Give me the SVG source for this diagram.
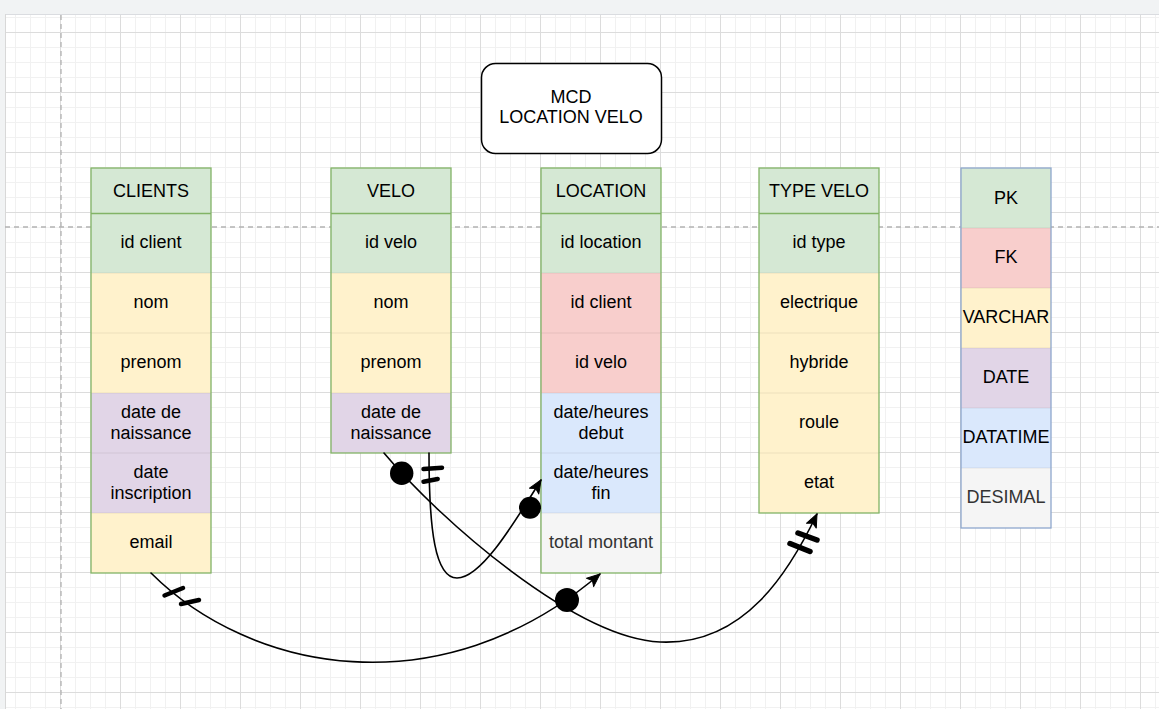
<svg xmlns="http://www.w3.org/2000/svg" width="1159" height="709" viewBox="0 0 1159 709">
<defs>
<pattern id="minor" x="0" y="2" width="15" height="15" patternUnits="userSpaceOnUse">
<path d="M0.5,0 V15 M0,0.5 H15" fill="none" stroke="#f1f1f1" stroke-width="1"/>
</pattern>
<pattern id="major" x="0" y="32" width="60" height="60" patternUnits="userSpaceOnUse">
<path d="M0.5,0 V60 M0,0.5 H60" fill="none" stroke="#dcdcdc" stroke-width="1"/>
</pattern>
<marker id="arr" markerWidth="16" markerHeight="14" refX="14" refY="7" orient="auto" markerUnits="userSpaceOnUse">
<path d="M1,1.5 L14,7 L1,12.5 L4,7 z" fill="#000" stroke="#000" stroke-width="1" stroke-linejoin="round"/>
</marker>
<style>
.t{font-family:"Liberation Sans",Arial,sans-serif;font-size:18px;fill:#000;text-anchor:middle}
.g{fill:#333333}
.pk{fill:#d5e8d4}.fk{fill:#f8cecc}.vc{fill:#fff2cc}.dt{fill:#e1d5e7}.tm{fill:#dae8fc}.ds{fill:#f5f5f5}
.sep{stroke:#000;stroke-opacity:0.07;stroke-width:1;fill:none}
.tb{fill:none;stroke:#82b366;stroke-width:1.3}
.lg{fill:none;stroke:#8ea7cc;stroke-width:1.3}
.c{fill:none;stroke:#000;stroke-width:1.6;stroke-linecap:round}
.d{fill:none;stroke:#000;stroke-width:4.5;stroke-linecap:round}
.d2{fill:none;stroke:#000;stroke-width:5.5;stroke-linecap:round}
</style>
</defs>
<rect x="0" y="0" width="1159" height="709" fill="#ffffff"/>
<rect x="5" y="15" width="1154" height="694" fill="url(#minor)"/>
<rect x="5" y="15" width="1154" height="694" fill="url(#major)"/>
<rect x="0" y="0" width="1159" height="14" fill="#f1f3f4"/>
<line x1="0" y1="14.5" x2="1159" y2="14.5" stroke="#dadce0"/>
<rect x="0" y="14" width="5" height="695" fill="#f1f3f4"/>
<line x1="5.5" y1="14" x2="5.5" y2="709" stroke="#d8d8d8"/>
<line x1="61" y1="15" x2="61" y2="709" stroke="#b3b3b3" stroke-width="1.3" stroke-dasharray="5,4"/>
<line x1="5" y1="227" x2="1159" y2="227" stroke="#b3b3b3" stroke-width="1.3" stroke-dasharray="5,4"/>

<g id="title">
<rect x="481.5" y="63.5" width="180" height="90" rx="14" fill="#fff" stroke="#000" stroke-width="1.5"/>
<text class="t" x="571" y="103">MCD</text>
<text class="t" x="571" y="123">LOCATION VELO</text>
</g>

<g id="clients">
<rect class="pk" x="91" y="168" width="120" height="105"/>
<rect class="vc" x="91" y="273" width="120" height="120"/>
<rect class="dt" x="91" y="393" width="120" height="120"/>
<rect class="vc" x="91" y="513" width="120" height="60"/>
<path class="sep" d="M91,273H211M91,333H211M91,393H211M91,453H211M91,513H211"/>
<line x1="91" y1="213.5" x2="211" y2="213.5" stroke="#82b366" stroke-width="1.3"/>
<rect class="tb" x="91" y="168" width="120" height="405"/>
<text class="t" x="151" y="197">CLIENTS</text>
<text class="t" x="151" y="248">id client</text>
<text class="t" x="151" y="308">nom</text>
<text class="t" x="151" y="368">prenom</text>
<text class="t" x="151" y="418">date de</text>
<text class="t" x="151" y="439">naissance</text>
<text class="t" x="151" y="478">date</text>
<text class="t" x="151" y="499">inscription</text>
<text class="t" x="151" y="548">email</text>
</g>

<g id="velo">
<rect class="pk" x="331" y="168" width="120" height="105"/>
<rect class="vc" x="331" y="273" width="120" height="120"/>
<rect class="dt" x="331" y="393" width="120" height="60"/>
<path class="sep" d="M331,273H451M331,333H451M331,393H451"/>
<line x1="331" y1="213.5" x2="451" y2="213.5" stroke="#82b366" stroke-width="1.3"/>
<rect class="tb" x="331" y="168" width="120" height="285"/>
<text class="t" x="391" y="197">VELO</text>
<text class="t" x="391" y="248">id velo</text>
<text class="t" x="391" y="308">nom</text>
<text class="t" x="391" y="368">prenom</text>
<text class="t" x="391" y="418">date de</text>
<text class="t" x="391" y="439">naissance</text>
</g>

<g id="location">
<rect class="pk" x="541" y="168" width="120" height="105"/>
<rect class="fk" x="541" y="273" width="120" height="120"/>
<rect class="tm" x="541" y="393" width="120" height="120"/>
<rect class="ds" x="541" y="513" width="120" height="60"/>
<path class="sep" d="M541,273H661M541,333H661M541,393H661M541,453H661M541,513H661"/>
<line x1="541" y1="213.5" x2="661" y2="213.5" stroke="#82b366" stroke-width="1.3"/>
<rect class="tb" x="541" y="168" width="120" height="405"/>
<text class="t" x="601" y="197">LOCATION</text>
<text class="t" x="601" y="248">id location</text>
<text class="t" x="601" y="308">id client</text>
<text class="t" x="601" y="368">id velo</text>
<text class="t" x="601" y="418">date/heures</text>
<text class="t" x="601" y="439">debut</text>
<text class="t" x="601" y="478">date/heures</text>
<text class="t" x="601" y="499">fin</text>
<text class="t g" x="601" y="548">total montant</text>
</g>

<g id="typevelo">
<rect class="pk" x="759" y="168" width="120" height="105"/>
<rect class="vc" x="759" y="273" width="120" height="240"/>
<path class="sep" d="M759,273H879M759,333H879M759,393H879M759,453H879"/>
<line x1="759" y1="213.5" x2="879" y2="213.5" stroke="#82b366" stroke-width="1.3"/>
<rect class="tb" x="759" y="168" width="120" height="345"/>
<text class="t" x="819" y="197">TYPE VELO</text>
<text class="t" x="819" y="248">id type</text>
<text class="t" x="819" y="308">electrique</text>
<text class="t" x="819" y="368">hybride</text>
<text class="t" x="819" y="428">roule</text>
<text class="t" x="819" y="488">etat</text>
</g>

<g id="legend">
<rect class="pk" x="961" y="168" width="90" height="60"/>
<rect class="fk" x="961" y="228" width="90" height="60"/>
<rect class="vc" x="961" y="288" width="90" height="60"/>
<rect class="dt" x="961" y="348" width="90" height="60"/>
<rect class="tm" x="961" y="408" width="90" height="60"/>
<rect class="ds" x="961" y="468" width="90" height="60"/>
<path class="sep" d="M961,228H1051M961,288H1051M961,348H1051M961,408H1051M961,468H1051"/>
<rect class="lg" x="961" y="168" width="90" height="360"/>
<text class="t" x="1006" y="204">PK</text>
<text class="t" x="1006" y="263">FK</text>
<text class="t" x="1006" y="323">VARCHAR</text>
<text class="t" x="1006" y="383">DATE</text>
<text class="t" x="1006" y="443">DATATIME</text>
<text class="t g" x="1006" y="503">DESIMAL</text>
</g>

<g id="connectors">
<path class="c" d="M151,573 C250,672 440,710 600,574" marker-end="url(#arr)"/>
<path class="d" d="M164.5,595.5 L183,588 M181,604 L199,600"/>
<circle cx="567" cy="600" r="12" fill="#000"/>

<path class="c" d="M384,453 C440,520 575,638 660,642 C745,646 790,570 817,514" marker-end="url(#arr)"/>
<circle cx="401.7" cy="473.3" r="11.7" fill="#000"/>
<path class="d2" d="M790,543.5 L810,551.5 M798,533 L817,540"/>

<path class="c" d="M429,453 C429,530 435,578 457,578 C480,578 510,530 541,480" marker-end="url(#arr)"/>
<circle cx="530" cy="507.7" r="11" fill="#000"/>
<path class="d" d="M423.5,469 L442,467.7 M423.5,481.7 L437.7,479"/>
</g>
</svg>
